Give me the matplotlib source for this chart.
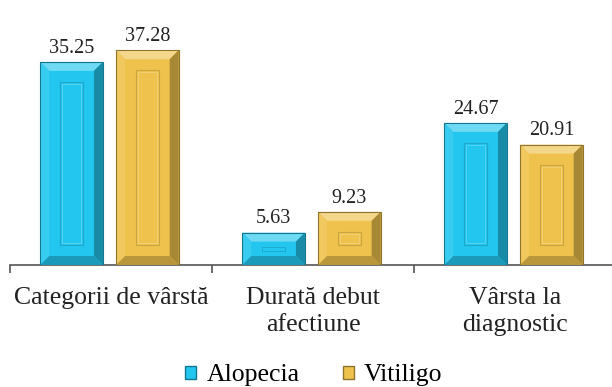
import numpy as np
import matplotlib.pyplot as plt
from matplotlib.patches import Rectangle, Polygon, Patch
from matplotlib.font_manager import FontProperties, findfont
import matplotlib.colors as mcolors

# data
categories = ["Categorii de vârstă", "Durată debut\nafectiune", "Vârsta la\ndiagnostic"]
alopecia = [35.25, 5.63, 24.67]
vitiligo = [37.28, 9.23, 20.91]
series_names = ["Alopecia", "Vitiligo"]

cyan = "#22C6EE"
gold = "#EEC24C"

serif_path = findfont(FontProperties(family='Liberation Serif'))
fp_big = FontProperties(fname=serif_path, size=18.5)
fp_num = FontProperties(fname=serif_path, size=14.5)

fig = plt.figure(figsize=(6.12, 3.87), dpi=100)
ax = fig.add_axes([10 / 612, 0.3152, 606 / 612, 0.67])

x = np.arange(len(categories))
width = 0.31
bars_a = ax.bar(x - 0.195, alopecia, width, color=cyan, zorder=2)
bars_v = ax.bar(x + 0.18, vitiligo, width, color=gold, zorder=2)

ax.set_xlim(-0.5, 2.5)
ax.set_ylim(0, 45)

# pixel -> data scale for bevel drawing
px_x = 1 / 202.0
px_y = 45 / (0.67 * 387)


def shade(c, f):
    r, g, b = mcolors.to_rgb(c)
    if f < 1:
        return (r * f, g * f, b * f)
    f = f - 1
    return (r + (1 - r) * f, g + (1 - g) * f, b + (1 - b) * f)


def bevel(bar, c):
    x0 = bar.get_x()
    w = bar.get_width()
    h = bar.get_height()
    x1 = x0 + w
    bx = 9 * px_x
    by = min(9 * px_y, h / 3)
    top = [(x0, h), (x1, h), (x1 - bx, h - by), (x0 + bx, h - by)]
    bottom = [(x0, 0), (x1, 0), (x1 - bx, by), (x0 + bx, by)]
    left = [(x0, 0), (x0, h), (x0 + bx, h - by), (x0 + bx, by)]
    right = [(x1, 0), (x1, h), (x1 - bx, h - by), (x1 - bx, by)]
    ax.add_patch(Polygon(top, closed=True, color=shade(c, 1.35), lw=0, zorder=3))
    ax.add_patch(Polygon(left, closed=True, color=shade(c, 1.1), lw=0, zorder=3))
    ax.add_patch(Polygon(right, closed=True, color=shade(c, 0.7), lw=0, zorder=3))
    ax.add_patch(Polygon(bottom, closed=True, color=shade(c, 0.78), lw=0, zorder=3))
    ax.add_patch(Rectangle((x0, 0), w, h, fill=False, ec=shade(c, 0.6), lw=0.8, zorder=4))
    # inner recessed panel
    ix = 20 * px_x
    iy = 20 * px_y
    if h > 2 * iy + 2 * px_y:
        ax.add_patch(Rectangle((x0 + ix, iy), w - 2 * ix, h - 2 * iy, fill=False,
                               ec=shade(c, 0.85), lw=0.8, zorder=4))
        ax.add_patch(Rectangle((x0 + ix + 2 * px_x, iy + 2 * px_y), w - 2 * ix - 4 * px_x,
                               h - 2 * iy - 4 * px_y, fill=False,
                               ec=shade(c, 1.25), lw=0.6, zorder=4))
    else:
        ax.add_patch(Rectangle((x0 + ix, h / 2 - 2 * px_y), w - 2 * ix, 4 * px_y, fill=False,
                               ec=shade(c, 0.85), lw=0.6, zorder=4))


for b in bars_a:
    bevel(b, cyan)
for b in bars_v:
    bevel(b, gold)

# value labels
for bars, vals in [(bars_a, alopecia), (bars_v, vitiligo)]:
    for b, v in zip(bars, vals):
        ax.annotate(f"{v:.2f}", (b.get_x() + b.get_width() / 2, v),
                    xytext=(0, 3), textcoords="offset points", fontproperties=fp_num,
                    ha="center", va="bottom", color="#222222")

for s in ["top", "right", "left"]:
    ax.spines[s].set_visible(False)
ax.spines["bottom"].set_color("#555555")
ax.spines["bottom"].set_linewidth(1.2)
ax.set_yticks([])

ax.set_xticks(x)
ax.set_xticklabels(categories, fontproperties=fp_big, color="#222222", linespacing=1.3)
ax.set_xticks(np.arange(-0.5, 3, 1), minor=True)
ax.tick_params(axis="x", which="major", length=0, pad=16)
ax.tick_params(axis="x", which="minor", length=6, width=1.2, color="#555555")

handles = [Patch(facecolor=cyan, edgecolor=shade(cyan, 0.6)),
           Patch(facecolor=gold, edgecolor=shade(gold, 0.6))]
fig.legend(handles, series_names, loc="center", bbox_to_anchor=(0.513, 0.03),
           ncol=2, frameon=False, handlelength=0.42, handleheight=0.42,
           handletextpad=0.4, columnspacing=1.7, borderaxespad=0,
           prop=fp_big)

fig.savefig("out.png", dpi=100)
